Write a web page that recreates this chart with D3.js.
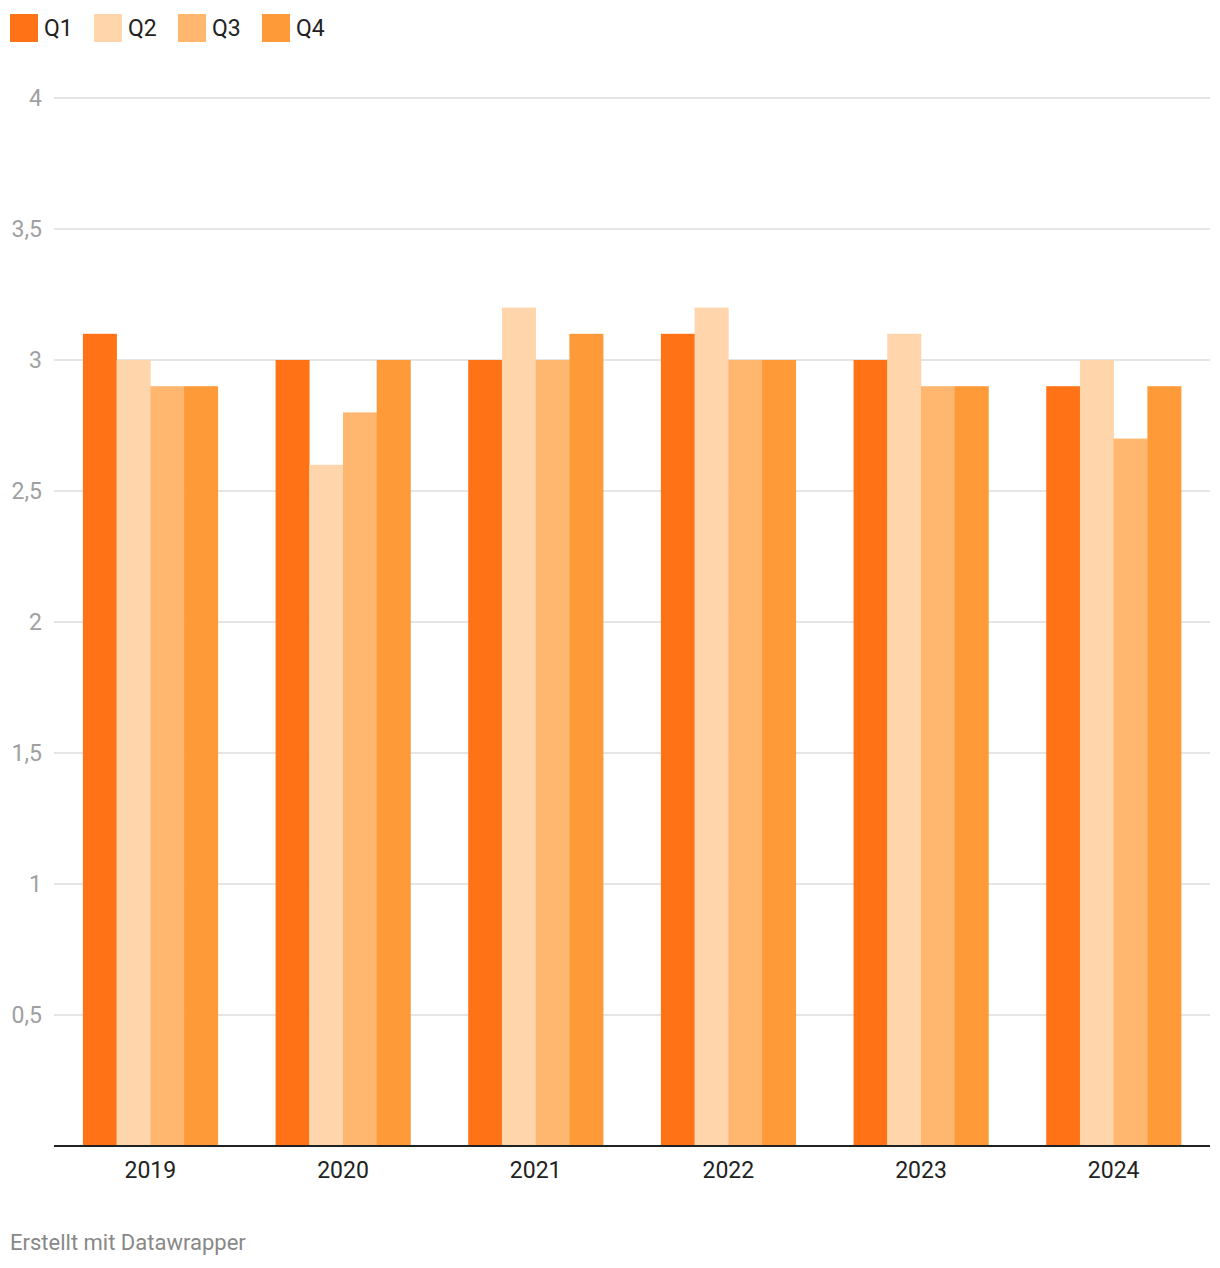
<!DOCTYPE html>
<html>
<head>
<meta charset="utf-8">
<script src="https://cdn.jsdelivr.net/npm/d3@7"></script>
<style>
  body { margin: 0; background: #fff; font-family: Roboto, "Noto Sans", sans-serif; }
</style>
</head>
<body>
<script>
var years = ["2019", "2020", "2021", "2022", "2023", "2024"];
var quarters = ["Q1", "Q2", "Q3", "Q4"];
var q1 = [3.1, 3.0, 3.0, 3.1, 3.0, 2.9];
var q2 = [3.0, 2.6, 3.2, 3.2, 3.1, 3.0];
var q3 = [2.9, 2.8, 3.0, 3.0, 2.9, 2.7];
var q4 = [2.9, 3.0, 3.1, 3.0, 2.9, 2.9];
var yTicks = [0.5, 1, 1.5, 2, 2.5, 3, 3.5, 4];
var colors = ["#ff7316", "#ffd5ac", "#ffb66e", "#ff9a38"];

var series = [q1, q2, q3, q4];
var width = 1220, height = 1268;
var plotLeft = 54, plotRight = 1210, plotTop = 98, plotBottom = 1146;

var svg = d3.select("body").append("svg")
  .attr("width", width)
  .attr("height", height);

var x0 = d3.scaleBand().domain(years).range([plotLeft, plotRight]).paddingInner(0.3).paddingOuter(0.15);
var x1 = d3.scaleBand().domain(quarters).range([0, x0.bandwidth()]);
var y = d3.scaleLinear().domain([0, 4]).range([plotBottom, plotTop]);

// legend
var legend = svg.append("g").selectAll("g").data(quarters).enter().append("g")
  .attr("transform", function(d, i) { return "translate(" + (10 + i * 84) + ",14)"; });
legend.append("rect").attr("width", 28).attr("height", 28)
  .attr("fill", function(d, i) { return colors[i]; });
legend.append("text").attr("x", 34).attr("y", 22)
  .attr("font-size", 23).attr("fill", "#222").text(function(d) { return d; });

// grid + y labels
var fmt = function(v) { return String(v).replace(".", ","); };
svg.append("g").selectAll("line").data(yTicks).enter().append("line")
  .attr("x1", plotLeft).attr("x2", plotRight)
  .attr("y1", function(d) { return y(d); }).attr("y2", function(d) { return y(d); })
  .attr("stroke", "#e5e5e5").attr("stroke-width", 2);
svg.append("g").selectAll("text").data(yTicks).enter().append("text")
  .attr("x", 42).attr("y", function(d) { return y(d) + 8; })
  .attr("text-anchor", "end").attr("font-size", 23).attr("fill", "#a0a0a0")
  .text(fmt);

// bars
var groups = svg.append("g").selectAll("g").data(years).enter().append("g")
  .attr("transform", function(d) { return "translate(" + x0(d) + ",0)"; });
groups.selectAll("rect").data(function(d, i) {
    return series.map(function(s, k) { return { q: quarters[k], v: s[i], k: k }; });
  }).enter().append("rect")
  .attr("x", function(d) { return x1(d.q); })
  .attr("width", x1.bandwidth() + 0.3)
  .attr("y", function(d) { return y(d.v); })
  .attr("height", function(d) { return y(0) - y(d.v); })
  .attr("fill", function(d) { return colors[d.k]; });

// baseline
svg.append("line").attr("x1", plotLeft).attr("x2", plotRight)
  .attr("y1", plotBottom).attr("y2", plotBottom)
  .attr("stroke", "#222").attr("stroke-width", 2);

// x labels
svg.append("g").selectAll("text").data(years).enter().append("text")
  .attr("x", function(d) { return x0(d) + x0.bandwidth() / 2; })
  .attr("y", 1178).attr("text-anchor", "middle")
  .attr("font-size", 23).attr("fill", "#222").text(function(d) { return d; });

svg.append("text").attr("x", 10).attr("y", 1250)
  .attr("font-size", 22).attr("fill", "#888").text("Erstellt mit Datawrapper");
</script>
</body>
</html>
